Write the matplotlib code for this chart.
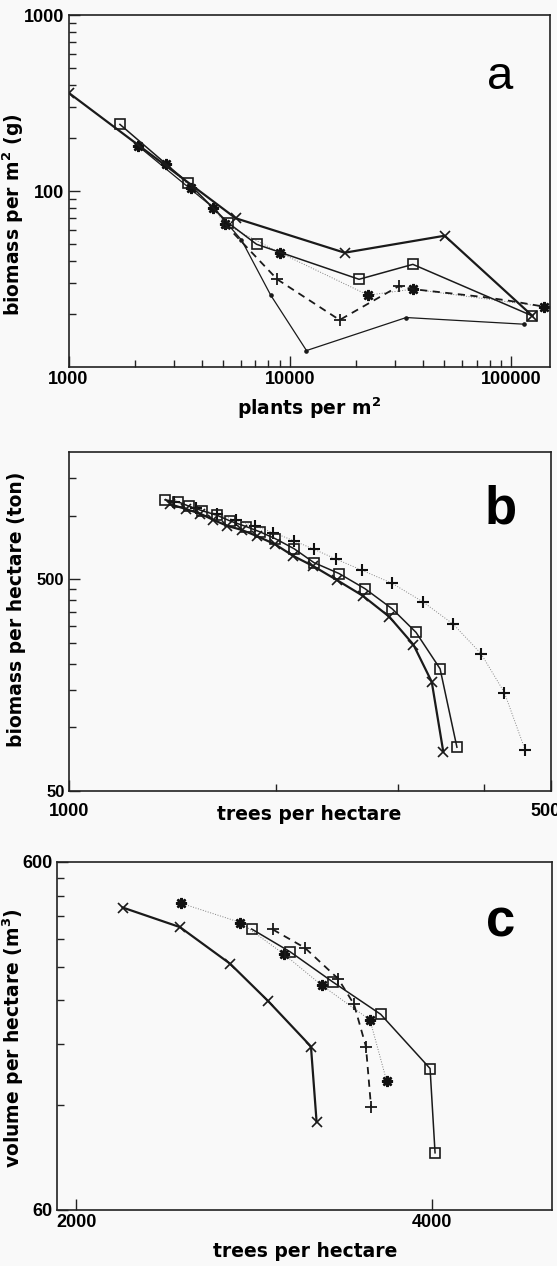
import matplotlib
matplotlib.use('Agg')
import matplotlib.pyplot as plt
from matplotlib.ticker import FixedLocator, FixedFormatter, NullFormatter

plt.rcParams['font.family'] = ['Liberation Sans', 'DejaVu Sans']
plt.rcParams['font.weight'] = 'bold'
plt.rcParams['mathtext.fontset'] = 'dejavusans'

# ---------------- data: panel a ----------------
a_x_x = [1000, 5700, 17700, 50100, 125000]
a_x_y = [362, 70, 44.6, 55.7, 19.5]
a_sq_x = [1708, 3476, 5260, 7080, 20560, 36000, 125000]
a_sq_y = [239, 111, 66, 49.8, 31.5, 38.3, 19.5]
a_st_x = [2066, 2755, 3596, 4509, 5100, 9020, 22600, 36000, 141600]
a_st_y = [180, 142, 103.5, 80.4, 64.7, 44.6, 25.6, 27.7, 22.0]
a_pl_x = [5100, 8770, 16800, 31100, 36000, 76600, 100000, 141600]
a_pl_y = [64.7, 31.5, 18.5, 28.8, 27.7, 24.9, 23.7, 22.0]
a_dt_x = [2066, 4509, 6050, 8200, 11900, 33600, 115000]
a_dt_y = [180, 80.4, 52.7, 25.6, 12.4, 19.1, 17.5]

# ---------------- data: panel b ----------------
b_sq_x = [1380, 1443, 1497, 1563, 1641, 1715, 1808, 1896, 1992, 2122, 2269,
          2467, 2690, 2946, 3190, 3457, 3657]
b_sq_y = [1188, 1162, 1106, 1055, 1005, 944, 889, 838, 780, 699, 600,
          533, 452, 363, 281, 189, 80.5]
b_x_x = [1403, 1480, 1551, 1622, 1699, 1782, 1874, 1992, 2118, 2265, 2448,
         2669, 2918, 3162, 3362, 3494]
b_x_y = [1133, 1075, 1023, 955, 895, 857, 802, 733, 645, 577, 497,
         419, 333, 246, 164, 76.7]
b_pl_x = [1420, 1530, 1640, 1750, 1862, 1982, 2124, 2269, 2439, 2661, 2946,
          3263, 3613, 3963, 4285, 4592]
b_pl_y = [1165, 1090, 1020, 950, 895, 832, 760, 694, 625, 553, 479,
          392, 307, 223, 146, 78.2]

# ---------------- data: panel c ----------------
c_x_x = [2189, 2448, 2700, 2908, 3161, 3196]
c_x_y = [444, 390, 306, 239, 177, 107.5]
c_st_x = [2452, 2755, 2999, 3228, 3547, 3664]
c_st_y = [457, 402, 326, 265.5, 211, 141]
c_sq_x = [2816, 3036, 3300, 3622, 3988, 4027]
c_sq_y = [385, 331, 271, 219, 153, 87.6]
c_pl_x = [2934, 3124, 3334, 3438, 3519, 3554]
c_pl_y = [384, 340, 277, 234, 177, 119]

# tick values
a_xticks = [1000, 10000, 100000]
a_yticks = [100, 1000]
b_xticks = [1000, 5000]
b_xminor = [2000, 3000, 4000]
b_yticks = [50, 500]
b_yminor = [100, 150, 200, 250, 300, 350, 400, 450, 1000, 1500]
c_xticks = [2000, 4000]
c_yticks = [60, 600]
c_yminor = [120, 180, 240, 300, 360, 420, 480, 540]

W, H = 557, 1266
BG = '#f9f9f9'
fig = plt.figure(figsize=(W / 100, H / 100), dpi=100)
fig.patch.set_facecolor(BG)

LABEL = dict(fontsize=13.5, fontweight='bold', family=['DejaVu Sans'])


def ax_at(l, r, t, b):
    ax = fig.add_axes([l / W, 1 - b / H, (r - l) / W, (b - t) / H])
    ax.set_facecolor(BG)
    for s in ax.spines.values():
        s.set_linewidth(1.2)
        s.set_color('#222222')
    ax.tick_params(which='both', direction='in', top=False, right=False,
                   labelsize=13, width=1.0, color='#222222', pad=3)
    ax.tick_params(which='major', length=8)
    ax.tick_params(which='minor', length=5)
    return ax


STAR = (8, 2, 0)
sty_x = dict(color='#1a1a1a', lw=1.6, marker='x', ms=6.5, mew=1.2)
sty_sq = dict(color='#1a1a1a', lw=1.1, marker='s', ms=6.5, mfc='none', mew=1.2)
sty_st = dict(color='#808080', lw=0.7, ls=':', marker=STAR, ms=8, mew=1.8,
              mec='#111111')
sty_pl = dict(color='#1a1a1a', lw=1.3, ls=(0, (4, 3)), marker='+', ms=8, mew=1.3)
sty_dt = dict(color='#1a1a1a', lw=0.9, marker='o', ms=2.3)

# ---------------- panel a ----------------
ax = ax_at(68.5, 550, 15, 367)
ax.set_xscale('log')
ax.set_yscale('log')
ax.set_xlim(1000, 150000)
ax.set_ylim(10, 1000)
ax.plot(a_dt_x, a_dt_y, **sty_dt)
ax.plot(a_st_x, a_st_y, **sty_st)
ax.plot(a_pl_x, a_pl_y, markevery=[1, 2, 3], **sty_pl)
ax.plot(a_sq_x, a_sq_y, **sty_sq)
ax.plot(a_x_x, a_x_y, **sty_x)
ax.xaxis.set_major_locator(FixedLocator(a_xticks))
ax.xaxis.set_major_formatter(FixedFormatter([str(v) for v in a_xticks]))
ax.yaxis.set_major_locator(FixedLocator(a_yticks))
ax.yaxis.set_major_formatter(FixedFormatter([str(v) for v in a_yticks]))
ax.xaxis.set_minor_formatter(NullFormatter())
ax.yaxis.set_minor_formatter(NullFormatter())
ax.set_xlabel('plants per m$^\\mathbf{2}$', **LABEL)
ax.xaxis.set_label_coords(0.5, -0.080)
ax.set_ylabel('biomass per m$^\\mathbf{2}$ (g)', **LABEL)
ax.yaxis.set_label_coords(-0.088, 0.432)
ax.text(0.896, 0.824, 'a', transform=ax.transAxes, fontsize=34,
        fontweight='normal', ha='center', va='center')

# ---------------- panel b ----------------
ax = ax_at(68.6, 550.6, 452, 791)
ax.set_xscale('log')
ax.set_yscale('log')
ax.set_xlim(1000, 5000)
ax.set_ylim(50, 2000)
ax.plot(b_pl_x, b_pl_y, color='#888888', lw=0.7, ls=':', marker='+', ms=8,
        mew=1.5, mec='#111111')
ax.plot(b_sq_x, b_sq_y, **sty_sq)
ax.plot(b_x_x, b_x_y, **sty_x)
ax.xaxis.set_major_locator(FixedLocator(b_xticks))
ax.xaxis.set_major_formatter(FixedFormatter([str(v) for v in b_xticks]))
ax.xaxis.set_minor_locator(FixedLocator(b_xminor))
ax.xaxis.set_minor_formatter(NullFormatter())
ax.yaxis.set_major_locator(FixedLocator(b_yticks))
ax.yaxis.set_major_formatter(FixedFormatter([str(v) for v in b_yticks]))
ax.yaxis.set_minor_locator(FixedLocator(b_yminor))
ax.yaxis.set_minor_formatter(NullFormatter())
ax.tick_params(axis='x', which='both', pad=9)
ax.tick_params(axis='y', which='both', labelsize=12)
ax.set_xlabel('trees per hectare', **LABEL)
ax.xaxis.set_label_coords(0.5, -0.040)
ax.set_ylabel('biomass per hectare (ton)', **LABEL)
ax.yaxis.set_label_coords(-0.088, 0.537)
ax.text(0.896, 0.829, 'b', transform=ax.transAxes, fontsize=38,
        fontweight='bold', ha='center', va='center')

# ---------------- panel c ----------------
ax = ax_at(57, 552.4, 862, 1210)
ax.set_xscale('log')
ax.set_yscale('log')
ax.set_xlim(1926, 5063)
ax.set_ylim(60, 600)
ax.plot(c_st_x, c_st_y, **sty_st)
ax.plot(c_pl_x, c_pl_y, **sty_pl)
ax.plot(c_sq_x, c_sq_y, **sty_sq)
ax.plot(c_x_x, c_x_y, **sty_x)
ax.xaxis.set_major_locator(FixedLocator(c_xticks))
ax.xaxis.set_major_formatter(FixedFormatter([str(v) for v in c_xticks]))
ax.xaxis.set_minor_locator(FixedLocator([]))
ax.yaxis.set_major_locator(FixedLocator(c_yticks))
ax.yaxis.set_major_formatter(FixedFormatter([str(v) for v in c_yticks]))
ax.yaxis.set_minor_locator(FixedLocator(c_yminor))
ax.yaxis.set_minor_formatter(NullFormatter())
ax.set_xlabel('trees per hectare', **LABEL)
ax.xaxis.set_label_coords(0.5, -0.093)
ax.set_ylabel('volume per hectare (m$^\\mathbf{3}$)', **LABEL)
ax.yaxis.set_label_coords(-0.063, 0.494)
ax.text(0.896, 0.825, 'c', transform=ax.transAxes, fontsize=38,
        fontweight='bold', ha='center', va='center')

fig.savefig('out.png', dpi=100, facecolor=fig.get_facecolor())
